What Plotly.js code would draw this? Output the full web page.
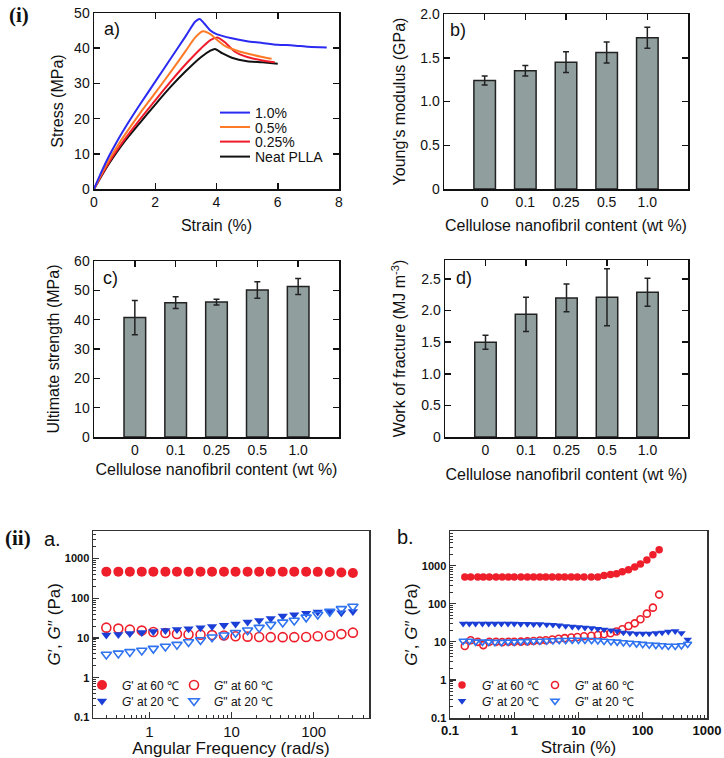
<!DOCTYPE html>
<html>
<head>
<meta charset="utf-8">
<script src="https://cdn.plot.ly/plotly-3.0.1.min.js"></script>
<style>
  body { margin: 0; background: #fff; }
  #chart { width: 724px; height: 758px; }
</style>
</head>
<body>
<div id="chart"></div>
<script>
// (i) a) stress-strain curves
var strain10 = [0, 0.25, 0.5, 0.75, 1.0, 1.5, 2.0, 2.5, 3.0, 3.3, 3.45, 3.6, 3.8, 4.0, 4.5, 5.0, 5.5, 6.0, 6.5, 7.0, 7.6];
var stress10 = [0, 5, 9.5, 13.5, 17.2, 24, 30.5, 37, 43.5, 47.5, 48.3, 47, 45, 44, 42.8, 42, 41.5, 41, 40.8, 40.4, 40.2];
var strain05 = [0, 0.25, 0.5, 0.75, 1.0, 1.5, 2.0, 2.5, 3.0, 3.3, 3.55, 3.8, 4.0, 4.3, 4.6, 5.0, 5.5, 5.8];
var stress05 = [0, 4.4, 8.4, 12, 15.3, 21.5, 27.3, 33.2, 39.3, 43, 44.8, 44, 42.5, 40.5, 39.5, 38.5, 37.5, 37];
var strain025 = [0, 0.25, 0.5, 0.75, 1.0, 1.5, 2.0, 2.5, 3.0, 3.5, 3.8, 4.05, 4.3, 4.6, 5.0, 5.5, 5.9];
var stress025 = [0, 4, 7.7, 11, 14.1, 19.8, 25.2, 30.5, 35.5, 40, 42.3, 43, 41.5, 39, 37.5, 36.5, 36];
var strainNeat = [0, 0.25, 0.5, 0.75, 1.0, 1.5, 2.0, 2.5, 3.0, 3.5, 3.8, 3.95, 4.2, 4.5, 5.0, 5.5, 6.0];
var stressNeat = [0, 3.8, 7.3, 10.5, 13.5, 18.8, 24, 29, 33.5, 37.5, 39.3, 39.8, 38.5, 37.3, 36.3, 36, 35.6];

// (i) b-d) bar charts
var cnfContent = ['0', '0.1', '0.25', '0.5', '1.0'];
var youngMod = [1.24, 1.35, 1.45, 1.56, 1.73];
var youngErr = [0.05, 0.06, 0.12, 0.12, 0.12];
var ultStrength = [40.7, 45.8, 46.0, 50.1, 51.3];
var ultErr = [5.8, 2.0, 1.0, 2.8, 2.7];
var workFrac = [1.50, 1.94, 2.20, 2.21, 2.29];
var workErr = [0.11, 0.27, 0.22, 0.45, 0.22];

// (ii) a) frequency sweep
var angFreq = [0.3, 0.42, 0.58, 0.81, 1.12, 1.57, 2.17, 3.0, 4.2, 5.8, 8.1, 11.2, 15.7, 21.7, 30, 42, 58, 81, 112, 157, 217, 300];
var gp60Freq = [465, 465, 465, 465, 465, 465, 465, 465, 465, 465, 465, 465, 465, 465, 465, 465, 465, 465, 460, 455, 445, 430];
var gpp60Freq = [18.2, 17.2, 16.2, 15.3, 14.1, 13.3, 12.6, 12.2, 12.0, 11.8, 11.5, 11.0, 10.8, 10.6, 10.5, 10.5, 10.5, 10.6, 11.0, 11.5, 12.5, 13.6];
var gp20Freq = [11.8, 12.3, 13.0, 13.8, 14.6, 15.4, 16.3, 17.0, 18.0, 19.5, 21.0, 22.4, 25.1, 27.5, 30.9, 35.5, 38.5, 42, 44.7, 46.5, 43, 46.5];
var gpp20Freq = [3.85, 4.1, 4.47, 4.84, 5.4, 6.1, 6.8, 7.9, 8.9, 10.4, 11.7, 13.5, 15.6, 18.2, 21.6, 24.6, 27.5, 33, 39, 46, 54, 61.7];

// (ii) b) strain sweep
var strain60 = [0.17, 0.21, 0.27, 0.33, 0.41, 0.52, 0.65, 0.81, 1.0, 1.27, 1.6, 2.0, 2.5, 3.1, 3.9, 4.9, 6.1, 7.7, 9.6, 12.2, 15.8, 20, 25, 31.5, 39, 48, 60, 75, 92, 116, 144, 180];
var gp60Strain = [505, 505, 505, 505, 505, 505, 505, 505, 505, 505, 505, 505, 505, 505, 505, 505, 505, 505, 505, 505, 505, 507, 548, 582, 617, 697, 786, 922, 1105, 1405, 1935, 2620];
var gpp60Strain = [7.8, 11, 10, 8.2, 10, 10, 9.8, 10, 10, 10.1, 10.3, 10.5, 10.8, 11, 11.5, 12, 12.5, 13, 13.4, 14, 14.5, 15.1, 15.8, 16.8, 18.6, 21.4, 26, 30.6, 39, 55, 79, 174];
var strain20 = [0.16, 0.2, 0.25, 0.32, 0.4, 0.5, 0.63, 0.8, 1.0, 1.26, 1.6, 2.0, 2.5, 3.2, 4.0, 5.0, 6.3, 8.0, 10, 12.6, 16, 20, 25, 32, 40, 50, 63, 80, 100, 126, 160, 200, 250, 320, 400, 500];
var gp20Strain = [30, 30, 30, 30, 30, 30, 30, 30, 30, 29.5, 29.5, 29, 29, 28.5, 28, 27, 26, 25, 24.5, 23.5, 23, 22, 21, 20, 19, 17.5, 17, 16.5, 16.5, 16.5, 16.8, 17.5, 18.5, 19, 17, 11.5];
var gpp20Strain = [10.5, 10.5, 10, 10, 10, 9.8, 9.8, 10, 10, 10.2, 10.3, 10.5, 10.5, 10.7, 10.8, 11, 11, 11.2, 11.2, 11.2, 11, 10.8, 10.5, 10.2, 10, 9.6, 9.3, 9, 8.7, 8.4, 8.2, 8, 7.8, 7.8, 8, 8.8];

var FONT = 'Liberation Sans, Arial, sans-serif';
var W = 724, H = 758;
function px(x) { return x / W; }
function py(y) { return 1 - y / H; }

// axis with a black frame and inside ticks
function frameAxis(opts, titleText, standoff) {
    var ax = {
        showline: true, linecolor: '#111', linewidth: 1.5, mirror: 'ticks',
        ticks: 'inside', ticklen: 6, tickwidth: 1.5, tickcolor: '#111',
        showgrid: false, zeroline: false, fixedrange: true,
        tickfont: {family: FONT, size: 14, color: '#111'},
        title: {text: titleText, standoff: standoff, font: {family: FONT, size: 16, color: '#111'}}
    };
    for (var k in opts) ax[k] = opts[k];
    return ax;
}

// log axis for the rheology panels
function logAxis(opts, titleText, standoff, tickSize, tickBold) {
    var ax = {
        type: 'log', dtick: 1, exponentformat: 'none',
        showline: true, linecolor: '#333', linewidth: 1.5, mirror: true,
        ticks: 'inside', ticklen: 6, tickwidth: 1.2, tickcolor: '#333',
        minor: {ticks: 'inside', ticklen: 3, tickwidth: 1, tickcolor: '#333', showgrid: false},
        showgrid: false, zeroline: false, fixedrange: true,
        tickfont: {family: FONT, size: tickSize, color: '#111', weight: tickBold ? 'bold' : 'normal'},
        title: {text: titleText, standoff: standoff, font: {family: FONT, size: 17, color: '#111'}}
    };
    for (var k in opts) ax[k] = opts[k];
    return ax;
}

var data = [];

// stress-strain lines
var curves = [
    {name: '1.0%', x: strain10, y: stress10, color: '#2a2af2', legend: 'legend'},
    {name: '0.5%', x: strain05, y: stress05, color: '#ff7a26', legend: 'legend2'},
    {name: '0.25%', x: strain025, y: stress025, color: '#f01c2c', legend: 'legend3'},
    {name: 'Neat PLLA', x: strainNeat, y: stressNeat, color: '#111111', legend: 'legend4'}
];
for (var i = curves.length - 1; i >= 0; i--) {
    data.push({
        type: 'scatter', mode: 'lines', name: curves[i].name,
        x: curves[i].x, y: curves[i].y, xaxis: 'x', yaxis: 'y',
        line: {color: curves[i].color, width: 2, shape: 'spline', smoothing: 0.6},
        legend: curves[i].legend, hoverinfo: 'skip'
    });
}

// bars (a see-through copy on the top axis carries its tick marks)
var barSets = [
    {y: youngMod, err: youngErr, xa: 'x2', top: 'x7', ya: 'y2'},
    {y: ultStrength, err: ultErr, xa: 'x3', top: 'x8', ya: 'y3'},
    {y: workFrac, err: workErr, xa: 'x4', top: 'x9', ya: 'y4'}
];
for (var j = 0; j < barSets.length; j++) {
    data.push({
        type: 'bar', x: cnfContent, y: barSets[j].y, xaxis: barSets[j].xa, yaxis: barSets[j].ya,
        width: 0.53, showlegend: false, hoverinfo: 'skip',
        marker: {color: '#909e9e', line: {color: '#222', width: 1.5}},
        error_y: {type: 'data', array: barSets[j].err, visible: true, color: '#222', thickness: 1.5, width: 3}
    });
    data.push({
        type: 'bar', x: cnfContent, y: barSets[j].y, xaxis: barSets[j].top, yaxis: barSets[j].ya,
        width: 0.53, showlegend: false, hoverinfo: 'skip', opacity: 0,
        marker: {color: '#909e9e'}
    });
}

// rheology markers
var RED = '#ee1f2b', BLUE = '#1b3fd6', LBLUE = '#2f73f0';
function rheo(name, x, y, xa, ya, symbol, color, size, legend) {
    var open = symbol.indexOf('open') >= 0;
    return {
        type: 'scatter', mode: 'markers', name: name, x: x, y: y, xaxis: xa, yaxis: ya,
        legend: legend, hoverinfo: 'skip',
        marker: {symbol: symbol, size: size, color: color, line: {color: color, width: open ? 1.6 : 0}}
    };
}
data.push(rheo("<i>G</i>' at 60 \u2103", angFreq, gp60Freq, 'x5', 'y5', 'circle', RED, 10, 'legend5'));
data.push(rheo('<i>G</i>" at 60 \u2103', angFreq, gpp60Freq, 'x5', 'y5', 'circle-open', RED, 9, 'legend6'));
data.push(rheo("<i>G</i>' at 20 \u2103", angFreq, gp20Freq, 'x5', 'y5', 'triangle-down', BLUE, 9, 'legend7'));
data.push(rheo('<i>G</i>" at 20 \u2103', angFreq, gpp20Freq, 'x5', 'y5', 'triangle-down-open', LBLUE, 9, 'legend8'));

data.push(rheo("<i>G</i>' at 60 \u2103", strain60, gp60Strain, 'x6', 'y6', 'circle', RED, 7.5, 'legend9'));
data.push(rheo('<i>G</i>" at 60 \u2103', strain60, gpp60Strain, 'x6', 'y6', 'circle-open', RED, 7, 'legend10'));
data.push(rheo("<i>G</i>' at 20 \u2103", strain20, gp20Strain, 'x6', 'y6', 'triangle-down', BLUE, 7.5, 'legend11'));
data.push(rheo('<i>G</i>" at 20 \u2103', strain20, gpp20Strain, 'x6', 'y6', 'triangle-down-open', LBLUE, 7, 'legend12'));

// single-entry legends, placed one by one
function cellLegend(x, y, size) {
    return {
        x: px(x), y: py(y), xanchor: 'left', yanchor: 'middle',
        bgcolor: 'rgba(0,0,0,0)', borderwidth: 0,
        font: {family: FONT, size: size, color: '#111'}
    };
}

// top tick marks over bar panels
function topTicks(over, anchor) {
    return {
        overlaying: over, anchor: anchor, side: 'top', range: [-1, 5], type: 'category',
        ticks: 'inside', ticklen: 6, tickwidth: 1.5, tickcolor: '#111',
        showticklabels: false, showline: false, showgrid: false, zeroline: false, fixedrange: true
    };
}

var barX = {range: [-1, 5], ticks: '', mirror: true, type: 'category'};

var layout = {
    width: W, height: H,
    margin: {l: 0, r: 0, t: 0, b: 0},
    paper_bgcolor: '#fff', plot_bgcolor: '#fff',
    showlegend: true,
    font: {family: FONT, color: '#111'},

    xaxis: frameAxis({domain: [px(94), px(339)], anchor: 'y', range: [0, 8], dtick: 2}, 'Strain (%)', 10),
    yaxis: frameAxis({domain: [py(189), py(13)], anchor: 'x', range: [0, 50], dtick: 10}, 'Stress (MPa)', 6),

    xaxis2: frameAxis(Object.assign({domain: [px(444), px(688)], anchor: 'y2'}, barX), 'Cellulose nanofibril content (wt %)', 10),
    yaxis2: frameAxis({domain: [py(189), py(14)], anchor: 'x2', range: [0, 2.0],
        tickvals: [0, 0.5, 1.0, 1.5, 2.0], ticktext: ['0', '0.5', '1.0', '1.5', '2.0']}, "Young's modulus (GPa)", 10),

    xaxis3: frameAxis(Object.assign({domain: [px(94), px(339)], anchor: 'y3'}, barX), 'Cellulose nanofibril content (wt %)', 6),
    yaxis3: frameAxis({domain: [py(437), py(261)], anchor: 'x3', range: [0, 60], dtick: 10}, 'Ultimate strength (MPa)', 10),

    xaxis4: frameAxis(Object.assign({domain: [px(445), px(688)], anchor: 'y4'}, barX), 'Cellulose nanofibril content (wt %)', 11),
    yaxis4: frameAxis({domain: [py(437), py(260)], anchor: 'x4', range: [0, 2.8],
        tickvals: [0, 0.5, 1.0, 1.5, 2.0, 2.5], ticktext: ['0', '0.5', '1.0', '1.5', '2.0', '2.5']},
        'Work of fracture (MJ m<sup>-3</sup>)', 11),

    xaxis7: topTicks('x2', 'y2'),
    xaxis8: topTicks('x3', 'y3'),
    xaxis9: topTicks('x4', 'y4'),

    xaxis5: logAxis({domain: [px(93), px(369)], anchor: 'y5', range: [-0.685, 2.673]}, 'Angular Frequency (rad/s)', 4, 15, false),
    yaxis5: logAxis({domain: [py(717.5), py(531)], anchor: 'x5', range: [-1, 3.69]}, '<i>G</i>\u2032, <i>G</i>\u2032\u2032 (Pa)', 0, 11, true),
    xaxis6: logAxis({domain: [px(450), px(707)], anchor: 'y6', range: [-1, 3]}, 'Strain (%)', 4, 13, true),
    yaxis6: logAxis({domain: [py(718), py(531)], anchor: 'x6', range: [-1, 3.91]}, '<i>G</i>\u2032, <i>G</i>\u2032\u2032 (Pa)', 0, 11, true),

    legend: cellLegend(215, 113, 14),
    legend2: cellLegend(215, 127.5, 14),
    legend3: cellLegend(215, 142, 14),
    legend4: cellLegend(215, 157, 14),
    legend5: cellLegend(82, 685, 12),
    legend6: cellLegend(174, 685, 12),
    legend7: cellLegend(82, 701, 12),
    legend8: cellLegend(174, 701, 12),
    legend9: cellLegend(442, 685, 12),
    legend10: cellLegend(535, 685, 12),
    legend11: cellLegend(442, 701, 12),
    legend12: cellLegend(535, 701, 12),

    annotations: [
        {text: '<b>(i)</b>', x: px(19), y: py(15), font: {family: 'Liberation Serif, Times New Roman, serif', size: 21}},
        {text: '<b>(ii)</b>', x: px(18), y: py(538), font: {family: 'Liberation Serif, Times New Roman, serif', size: 21}},
        {text: 'a)', x: px(112), y: py(29), font: {family: FONT, size: 18}},
        {text: 'b)', x: px(458), y: py(30), font: {family: FONT, size: 18}},
        {text: 'c)', x: px(110), y: py(278), font: {family: FONT, size: 18}},
        {text: 'd)', x: px(464), y: py(278), font: {family: FONT, size: 18}},
        {text: 'a.', x: px(52), y: py(539), font: {family: FONT, size: 20}},
        {text: 'b.', x: px(406), y: py(537), font: {family: FONT, size: 20}}
    ].map(function (a) {
        a.xref = 'paper'; a.yref = 'paper'; a.showarrow = false;
        a.xanchor = 'center'; a.yanchor = 'middle';
        a.font.color = '#111';
        return a;
    })
};

Plotly.newPlot('chart', data, layout, {staticPlot: true, displayModeBar: false});
</script>
</body>
</html>
